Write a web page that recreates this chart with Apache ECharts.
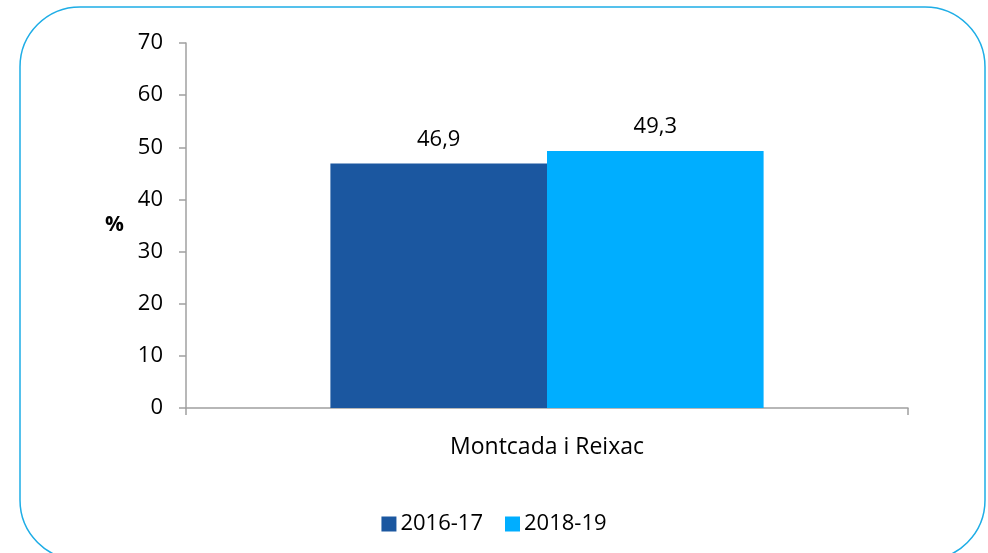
<!DOCTYPE html>
<html>
<head>
<meta charset="utf-8">
<script src="https://cdn.jsdelivr.net/npm/echarts@6/dist/echarts.min.js"></script>
<style>
html,body{margin:0;padding:0;background:#fff;}
#main{width:988px;height:553px;}
</style>
</head>
<body>
<div id="main"></div>
<script>
var categories = ['Montcada i Reixac'];
var seriesNames = ['2016-17', '2018-19'];
var values1617 = [46.9];
var values1819 = [49.3];
var colors = ['#1B57A0', '#00AEFF'];
var yTicks = { min: 0, max: 70, interval: 10 };

var chartDom = document.getElementById('main');
var myChart = echarts.init(chartDom);
var font = '"Open Sans", "Liberation Sans", sans-serif';

function labelFmt(p) {
	return String(p.value.toFixed(1)).replace('.', ',');
}

var option = {
	animation: false,
	textStyle: { fontFamily: font },
	graphic: [{
		type: 'rect',
		shape: { x: 20, y: 7, width: 965, height: 553, r: 60 },
		style: { fill: 'none', stroke: '#1EADE6', lineWidth: 1.5 },
		z: -1
	}],
	grid: { left: 186, right: 80, top: 43, bottom: 145 },
	legend: {
		data: seriesNames,
		bottom: 13,
		left: 'center',
		itemWidth: 15,
		itemHeight: 15,
		itemGap: 22,
		icon: 'rect',
		textStyle: { fontSize: 22, color: '#000', fontFamily: font, padding: [0, 0, 0, -1] }
	},
	xAxis: {
		type: 'category',
		data: categories,
		axisLine: { lineStyle: { color: '#A0A0A0', width: 1.5 } },
		axisTick: { show: true, length: 7, lineStyle: { color: '#A0A0A0', width: 1.5 } },
		axisLabel: { fontSize: 23, color: '#000', margin: 28, fontFamily: font }
	},
	yAxis: {
		type: 'value',
		min: yTicks.min,
		max: yTicks.max,
		interval: yTicks.interval,
		name: '%',
		nameLocation: 'middle',
		nameRotate: 0,
		nameGap: 62,
		nameTextStyle: { fontSize: 21, fontWeight: 'bold', color: '#000', fontFamily: font, padding: [0, 0, 80, 0] },
		axisLine: { show: true, lineStyle: { color: '#A0A0A0', width: 1.5 } },
		axisTick: { show: true, length: 7, lineStyle: { color: '#A0A0A0', width: 1.5 } },
		splitLine: { show: false },
		axisLabel: { fontSize: 22, color: '#000', margin: 23, fontFamily: font }
	},
	series: [{
		name: seriesNames[0],
		type: 'bar',
		data: values1617,
		barGap: '0%',
		barCategoryGap: '40%',
		itemStyle: { color: colors[0] },
		label: { show: true, position: 'top', distance: 13, fontSize: 22, color: '#000', formatter: labelFmt, fontFamily: font }
	}, {
		name: seriesNames[1],
		type: 'bar',
		data: values1819,
		itemStyle: { color: colors[1] },
		label: { show: true, position: 'top', distance: 13, fontSize: 22, color: '#000', formatter: labelFmt, fontFamily: font }
	}]
};
myChart.setOption(option);
</script>
</body>
</html>
